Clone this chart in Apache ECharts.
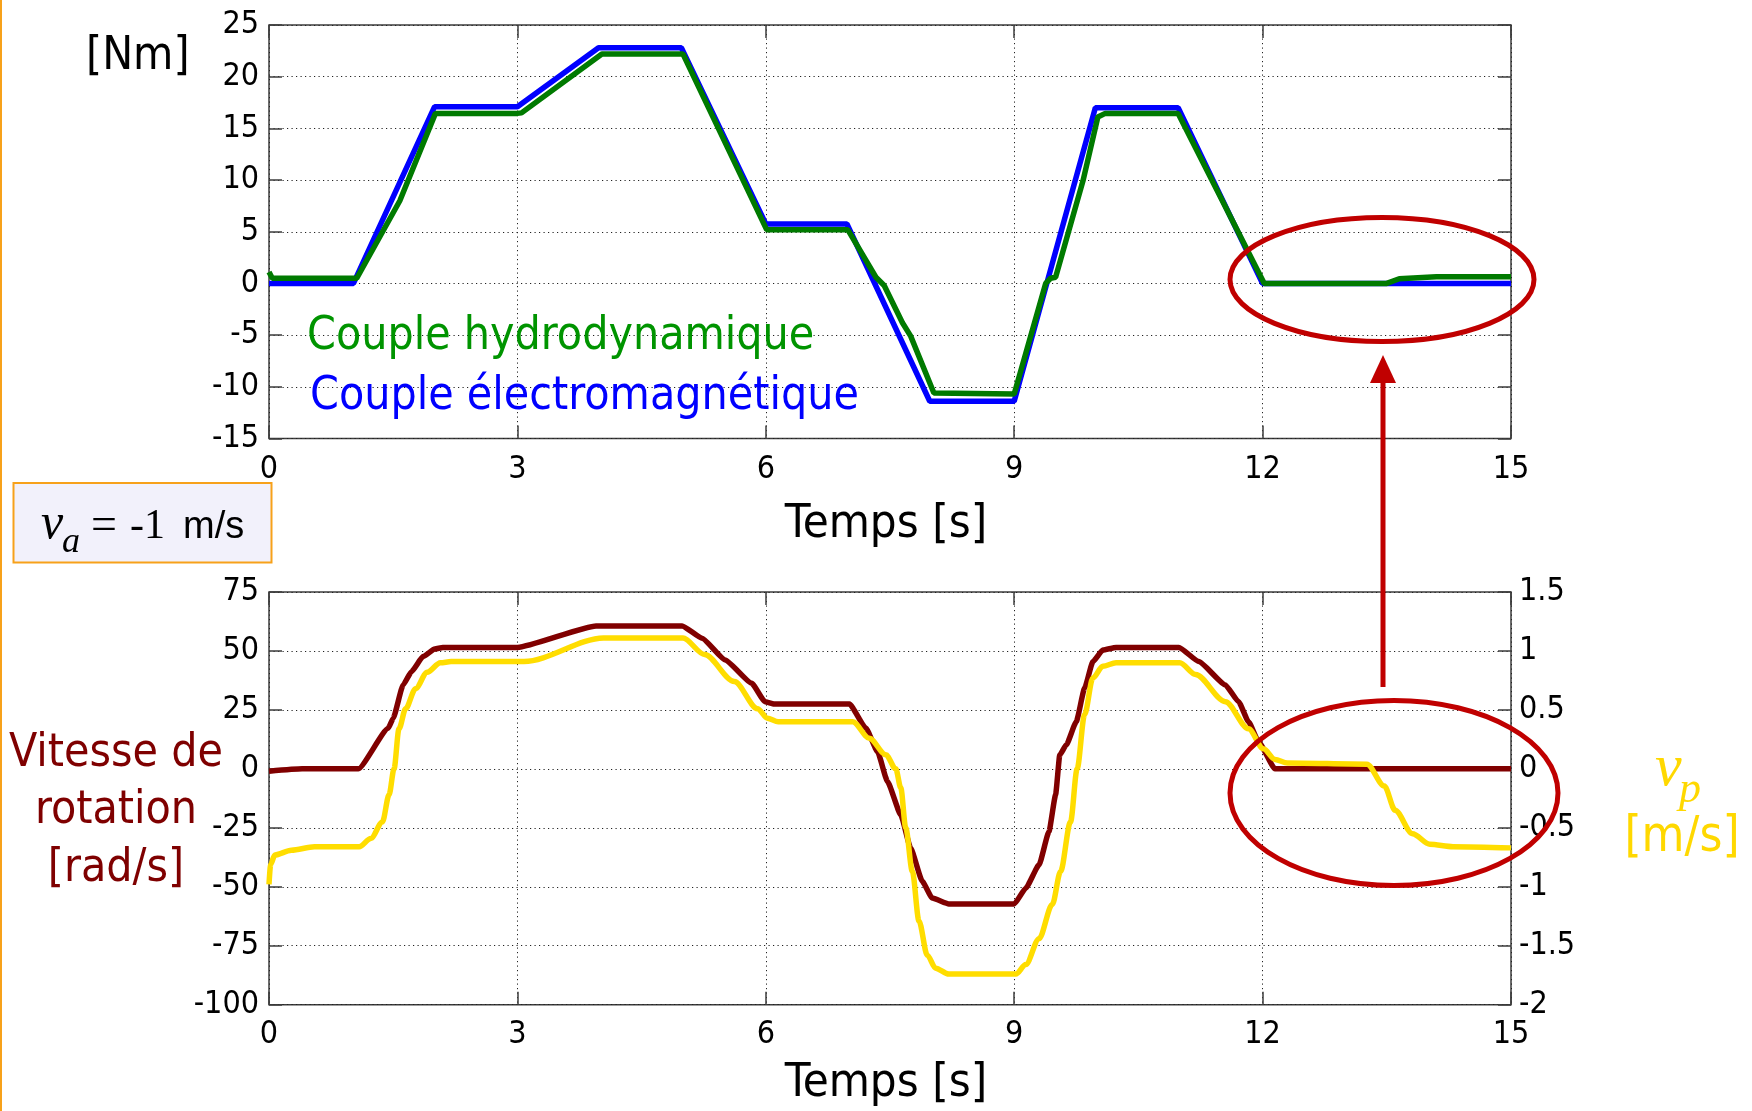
<!DOCTYPE html>
<html>
<head>
<meta charset="utf-8">
<script src="https://cdn.jsdelivr.net/npm/echarts@6/dist/echarts.min.js"></script>
<style>
html,body{margin:0;padding:0;background:#fff;}
#chart{width:1752px;height:1111px;}
</style>
</head>
<body>
<div id="chart"></div>
<script>
// ---- Data ----
var xTicks = [0, 3, 6, 9, 12, 15];

// Top: electromagnetic torque [Nm]
var emT = [0, 1.02, 2.0, 3.0, 3.98, 4.98, 6.0, 6.98, 7.98, 9.0, 9.98, 10.98, 12.0, 15];
var emV = [0, 0, 17.1, 17.1, 22.8, 22.8, 5.75, 5.75, -11.4, -11.4, 17.0, 17.0, 0, 0];

// Top: hydrodynamic torque [Nm]
var hyT = [0, 0.04, 1.06, 1.58, 2.01, 3.0, 3.05, 4.02, 5.0, 6.01, 6.99, 7.33, 7.43, 7.65, 7.75, 8.03, 9.0, 9.38, 9.44, 9.5, 9.83, 10.01, 10.1, 10.98, 12.02, 13.5, 13.65, 14.1, 15];
var hyV = [1.1, 0.5, 0.5, 8.0, 16.45, 16.45, 16.5, 22.2, 22.2, 5.2, 5.2, 0.6, -0.2, -3.8, -5.1, -10.6, -10.7, 0.0, 0.5, 0.6, 9.9, 16.1, 16.45, 16.45, 0, 0, 0.45, 0.65, 0.65];

// Bottom: rotation speed [rad/s]
var wT = [0, 0.4, 1.08, 1.44, 1.5, 1.62, 1.72, 1.86, 2.0, 2.1, 3.0, 3.95, 4.99, 5.23, 5.51, 5.83, 5.99, 6.1, 7.01, 7.21, 7.35, 7.47, 7.63, 7.75, 7.89, 8.01, 8.21, 9.0, 9.14, 9.3, 9.42, 9.5, 9.55, 9.63, 9.75, 9.85, 9.95, 10.07, 10.23, 10.99, 11.23, 11.55, 11.71, 11.83, 11.95, 12.15, 15];
var wV = [-1, 0, 0, 17.2, 21.5, 35.6, 41.2, 47.6, 50.8, 51.5, 51.5, 60.6, 60.6, 55.4, 46.2, 36.3, 28.5, 27.5, 27.5, 17.2, 7.3, -5.4, -19.5, -33.6, -47.7, -54.8, -57.3, -57.3, -50.6, -40.7, -26.6, -11, 5.9, 10.2, 20, 34.2, 45.5, 50.4, 51.5, 51.5, 45.5, 35.6, 28.5, 20, 11.6, 0, 0];

// Bottom: v_p [m/s] (right axis)
var vpT = [0, 0.02, 0.07, 0.27, 0.55, 1.09, 1.23, 1.37, 1.45, 1.51, 1.57, 1.65, 1.77, 1.91, 2.07, 2.2, 3.08, 4.04, 5.0, 5.26, 5.62, 5.9, 6.02, 6.15, 7.05, 7.25, 7.45, 7.57, 7.63, 7.69, 7.77, 7.85, 7.95, 8.05, 8.21, 9.02, 9.14, 9.3, 9.46, 9.56, 9.68, 9.76, 9.85, 9.95, 10.07, 10.23, 11.0, 11.19, 11.55, 11.83, 12.01, 12.15, 12.3, 13.26, 13.47, 13.6, 13.81, 14.02, 14.3, 15];
var vpV = [-0.98, -0.81, -0.73, -0.69, -0.66, -0.66, -0.59, -0.45, -0.22, 0.0, 0.34, 0.51, 0.68, 0.82, 0.9, 0.91, 0.91, 1.11, 1.11, 0.97, 0.74, 0.51, 0.43, 0.40, 0.40, 0.26, 0.12, 0.0, -0.16, -0.5, -0.87, -1.29, -1.58, -1.69, -1.74, -1.74, -1.66, -1.44, -1.15, -0.87, -0.45, 0.0, 0.46, 0.77, 0.87, 0.9, 0.9, 0.8, 0.57, 0.34, 0.17, 0.08, 0.05, 0.04, -0.145, -0.35, -0.55, -0.64, -0.66, -0.67];

var labels = {
  yTop: '[Nm]',
  xTitle: 'Temps [s]',
  legendHydro: 'Couple hydrodynamique',
  legendEm: 'Couple électromagnétique',
  speed: ['Vitesse de', 'rotation', '[rad/s]'],
  vpUnit: '[m/s]'
};

function zip(t, v) { return t.map(function (x, i) { return [x, v[i]]; }); }

// ---- Styles ----
var SANS = '"Liberation Sans", Arial, sans-serif';
var TAH = '"DejaVu Sans Condensed", "Liberation Sans", sans-serif';
var SERIF = '"Liberation Serif", "Times New Roman", serif';
var AX = '#3c3c3c';
var RED = '#c00000';
var ORANGE = '#f7a11a';

var grids = [
  { left: 269, top: 25, width: 1242, height: 413.5 },
  { left: 269, top: 592, width: 1242, height: 412.7 }
];

function gridOpt(g) {
  return { left: g.left, top: g.top, width: g.width, height: g.height, show: true,
    borderColor: AX, borderWidth: 1.5, backgroundColor: 'transparent', containLabel: false };
}

var noLine = { show: false, onZero: false };
var tickStyle = { show: true, inside: true, length: 13, lineStyle: { color: AX, width: 1.5 } };
var splitStyle = { show: true, lineStyle: { color: '#222', width: 1, type: [1.2, 3.3] } };
var lblStyle = { color: '#000', fontFamily: TAH, fontSize: 32 };

function xMain(gi, margin) {
  return { type: 'value', gridIndex: gi, position: 'bottom', min: 0, max: 15, interval: 3,
    axisLine: noLine, axisTick: tickStyle, splitLine: splitStyle,
    axisLabel: Object.assign({ margin: margin }, lblStyle) };
}
function xTop(gi) {
  return { type: 'value', gridIndex: gi, position: 'top', min: 0, max: 15, interval: 3,
    axisLine: noLine, axisTick: tickStyle, splitLine: { show: false }, axisLabel: { show: false } };
}

var option = {
  animation: false,
  backgroundColor: '#ffffff',
  grid: [gridOpt(grids[0]), gridOpt(grids[1])],
  xAxis: [xMain(0, 15), xTop(0), xMain(1, 14), xTop(1)],
  yAxis: [
    { type: 'value', gridIndex: 0, position: 'left', min: -15, max: 25, interval: 5,
      axisLine: noLine, axisTick: tickStyle, splitLine: splitStyle,
      axisLabel: Object.assign({ margin: 10 }, lblStyle) },
    { type: 'value', gridIndex: 0, position: 'right', min: -15, max: 25, interval: 5,
      axisLine: noLine, axisTick: tickStyle, splitLine: { show: false }, axisLabel: { show: false } },
    { type: 'value', gridIndex: 1, position: 'left', min: -100, max: 75, interval: 25,
      axisLine: noLine, axisTick: tickStyle, splitLine: splitStyle,
      axisLabel: Object.assign({ margin: 10 }, lblStyle) },
    { type: 'value', gridIndex: 1, position: 'right', min: -2, max: 1.5, interval: 0.5,
      axisLine: noLine, axisTick: tickStyle, splitLine: { show: false },
      axisLabel: Object.assign({ margin: 8 }, lblStyle) }
  ],
  series: [
    { name: labels.legendEm, type: 'line', xAxisIndex: 0, yAxisIndex: 0, data: zip(emT, emV),
      showSymbol: false, symbol: 'none', lineStyle: { color: '#0000ff', width: 5.5 }, z: 3 },
    { name: labels.legendHydro, type: 'line', xAxisIndex: 0, yAxisIndex: 0, data: zip(hyT, hyV),
      showSymbol: false, symbol: 'none', lineStyle: { color: '#007a00', width: 5.5 }, z: 4 },
    { name: 'Vitesse', type: 'line', xAxisIndex: 2, yAxisIndex: 2, data: zip(wT, wV),
      showSymbol: false, symbol: 'none', smooth: 0.15, smoothMonotone: 'x',
      lineStyle: { color: '#800000', width: 5.5 }, z: 3 },
    { name: 'vp', type: 'line', xAxisIndex: 2, yAxisIndex: 3, data: zip(vpT, vpV),
      showSymbol: false, symbol: 'none', smooth: 0.3, smoothMonotone: 'x',
      lineStyle: { color: '#ffdd00', width: 5.5 }, z: 4 }
  ],
  graphic: [
    // slide border on the left
    { type: 'rect', shape: { x: 0, y: 0, width: 2, height: 1111 }, style: { fill: ORANGE }, z: 10 },
    // va box
    { type: 'rect', shape: { x: 13.5, y: 483, width: 258, height: 79.5 },
      style: { fill: '#f2f1fb', stroke: ORANGE, lineWidth: 2 }, z: 10 },
    { type: 'text', z: 11, style: { text: 'v', x: 41, y: 525, font: 'italic 50px ' + SERIF, fill: '#000', textAlign: 'left', textVerticalAlign: 'middle', align: 'left', verticalAlign: 'middle' } },
    { type: 'text', z: 11, style: { text: 'a', x: 62, y: 543, font: 'italic 36px ' + SERIF, fill: '#000', textAlign: 'left', textVerticalAlign: 'middle', align: 'left', verticalAlign: 'middle' } },
    { type: 'text', z: 11, style: { text: '=', x: 91, y: 527, font: '46px ' + SERIF, fill: '#000', textAlign: 'left', textVerticalAlign: 'middle', align: 'left', verticalAlign: 'middle' } },
    { type: 'text', z: 11, style: { text: '-1', x: 130, y: 527, font: '42px ' + SERIF, fill: '#000', textAlign: 'left', textVerticalAlign: 'middle', align: 'left', verticalAlign: 'middle' } },
    { type: 'text', z: 11, style: { text: 'm/s', x: 183, y: 528, font: '38px ' + SANS, fill: '#000', textAlign: 'left', textVerticalAlign: 'middle', align: 'left', verticalAlign: 'middle' } },
    // axis titles
    { type: 'text', z: 11, style: { text: labels.yTop, x: 86, y: 57, font: '46px ' + TAH, fill: '#000', textAlign: 'left', textVerticalAlign: 'middle', align: 'left', verticalAlign: 'middle' } },
    { type: 'text', z: 11, style: { text: labels.xTitle, x: 886, y: 525, font: '47px ' + TAH, fill: '#000', textAlign: 'center', textVerticalAlign: 'middle', align: 'center', verticalAlign: 'middle' } },
    { type: 'text', z: 11, style: { text: labels.xTitle, x: 886, y: 1084, font: '47px ' + TAH, fill: '#000', textAlign: 'center', textVerticalAlign: 'middle', align: 'center', verticalAlign: 'middle' } },
    // legend texts
    { type: 'text', z: 11, style: { text: labels.legendHydro, x: 307, y: 337, font: '46px ' + TAH, fill: '#009400', textAlign: 'left', textVerticalAlign: 'middle', align: 'left', verticalAlign: 'middle' } },
    { type: 'text', z: 11, style: { text: labels.legendEm, x: 310, y: 397, font: '46px ' + TAH, fill: '#0000ff', textAlign: 'left', textVerticalAlign: 'middle', align: 'left', verticalAlign: 'middle' } },
    // speed label
    { type: 'text', z: 11, style: { text: labels.speed[0], x: 116, y: 754, font: '46px ' + TAH, fill: '#7f0000', textAlign: 'center', textVerticalAlign: 'middle', align: 'center', verticalAlign: 'middle' } },
    { type: 'text', z: 11, style: { text: labels.speed[1], x: 116, y: 811, font: '46px ' + TAH, fill: '#7f0000', textAlign: 'center', textVerticalAlign: 'middle', align: 'center', verticalAlign: 'middle' } },
    { type: 'text', z: 11, style: { text: labels.speed[2], x: 116, y: 869, font: '46px ' + TAH, fill: '#7f0000', textAlign: 'center', textVerticalAlign: 'middle', align: 'center', verticalAlign: 'middle' } },
    // v_p label
    { type: 'text', z: 11, style: { text: 'v', x: 1655, y: 769, font: 'italic 60px ' + SERIF, fill: '#ffd800', textAlign: 'left', textVerticalAlign: 'middle', align: 'left', verticalAlign: 'middle' } },
    { type: 'text', z: 11, style: { text: 'p', x: 1679, y: 790, font: 'italic 44px ' + SERIF, fill: '#ffd800', textAlign: 'left', textVerticalAlign: 'middle', align: 'left', verticalAlign: 'middle' } },
    { type: 'text', z: 11, style: { text: labels.vpUnit, x: 1682, y: 838, font: '49px ' + TAH, fill: '#ffd800', textAlign: 'center', textVerticalAlign: 'middle', align: 'center', verticalAlign: 'middle' } },
    // annotations: ellipses and arrow
    { type: 'ellipse', z: 20, shape: { cx: 1382, cy: 279.5, rx: 152, ry: 62 }, style: { fill: 'none', stroke: RED, lineWidth: 5 } },
    { type: 'ellipse', z: 20, shape: { cx: 1394, cy: 793, rx: 164, ry: 92.5 }, style: { fill: 'none', stroke: RED, lineWidth: 5 } },
    { type: 'line', z: 20, shape: { x1: 1383, y1: 687, x2: 1383, y2: 378 }, style: { stroke: RED, lineWidth: 5 } },
    { type: 'polygon', z: 20, shape: { points: [[1383, 355], [1370, 383], [1396, 383]] }, style: { fill: RED } }
  ]
};

var chart = echarts.init(document.getElementById('chart'), null, { renderer: 'canvas' });
chart.setOption(option);
</script>
</body>
</html>
